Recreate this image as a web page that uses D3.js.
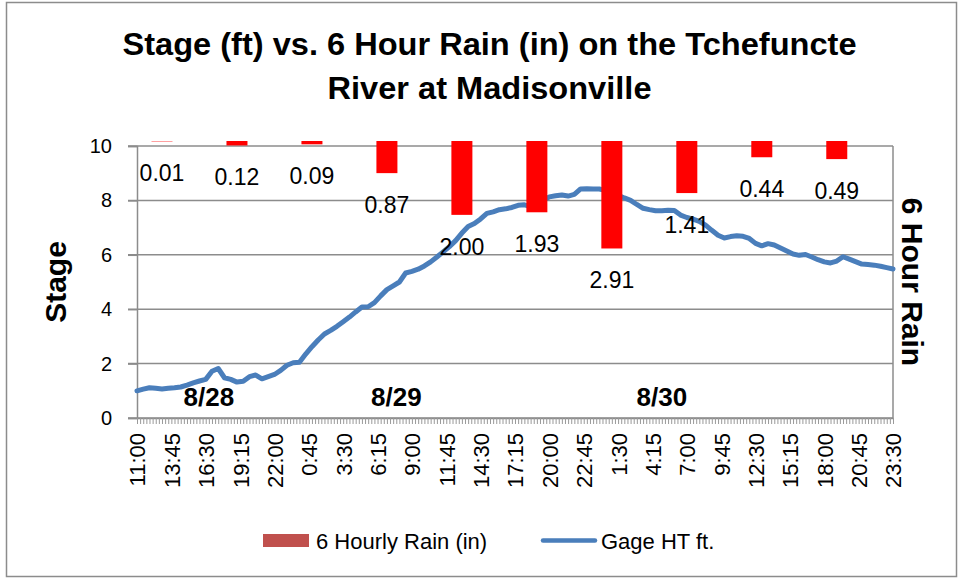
<!DOCTYPE html>
<html>
<head>
<meta charset="utf-8">
<script src="https://cdn.jsdelivr.net/npm/d3@7"></script>
<style>
body { margin: 0; background: #fff; }
text { font-family: "Liberation Sans", Arial, sans-serif; fill: #000; }
</style>
</head>
<body>
<div id="mainContainer"></div>
<script>
var titleLines = ["Stage (ft) vs. 6 Hour Rain (in) on the Tchefuncte", "River at Madisonville"];
var startTime = "2012-08-28 11:00";
var endTime = "2012-08-30 23:30";
var tickLabels = ["11:00","13:45","16:30","19:15","22:00","0:45","3:30","6:15","9:00","11:45","14:30",
    "17:15","20:00","22:45","1:30","4:15","7:00","9:45","12:30","15:15","18:00","20:45","23:30"];
var stageTicks = [0, 2, 4, 6, 8, 10];

// gage height every 30 min, 8/28 11:00 -> 8/30 23:30
var stage = [
    1.00,1.06,1.11,1.09,1.07,1.09,1.11,1.14,1.21,1.29,1.36,1.42,1.72,1.82,1.48,1.42,1.32,1.35,1.52,1.58,
    1.44,1.52,1.60,1.75,1.94,2.03,2.05,2.35,2.62,2.87,3.09,3.22,3.37,3.54,3.71,3.90,4.08,4.09,4.24,4.49,
    4.72,4.86,5.00,5.33,5.39,5.47,5.59,5.74,5.92,6.11,6.30,6.52,6.80,7.04,7.15,7.32,7.52,7.58,7.66,7.69,
    7.74,7.82,7.84,7.76,7.85,8.00,8.13,8.17,8.20,8.16,8.22,8.42,8.43,8.42,8.42,8.37,8.29,8.19,8.09,8.00,
    7.85,7.71,7.66,7.62,7.62,7.64,7.63,7.46,7.37,7.31,7.23,7.09,6.90,6.72,6.62,6.67,6.70,6.68,6.60,6.42,
    6.33,6.41,6.36,6.25,6.14,6.03,5.98,6.01,5.92,5.82,5.74,5.70,5.77,5.93,5.84,5.75,5.66,5.64,5.62,5.58,
    5.53,5.48];

var rainTimes = ["2012-08-28 13:00","2012-08-28 19:00","2012-08-29 01:00","2012-08-29 07:00","2012-08-29 13:00",
    "2012-08-29 19:00","2012-08-30 01:00","2012-08-30 07:00","2012-08-30 13:00","2012-08-30 19:00"];
var rain = [0.01, 0.12, 0.09, 0.87, 2.00, 1.93, 2.91, 1.41, 0.44, 0.49];

var dayLabels = ["8/28", "8/29", "8/30"];
var dayTimes = ["2012-08-28 16:45", "2012-08-29 07:45", "2012-08-30 05:00"];

var parse = d3.timeParse("%Y-%m-%d %H:%M");
var t0 = parse(startTime), t1 = parse(endTime);

var stageData = d3.timeMinute.every(30).range(t0, d3.timeMinute.offset(t1, 1)).map(function(t, i){
    return { t: t, v: stage[i] };
});
var rainData = rain.map(function(v, i){ return { t: parse(rainTimes[i]), v: v }; });

var W = 960, H = 579;
var plot = { left: 137, right: 893, top: 146, bottom: 418 };

var svg = d3.select('#mainContainer').append('svg')
    .attr('width', W)
    .attr('height', H);

svg.append('rect')
    .attr('x', 6.5).attr('y', 2.5)
    .attr('width', 950).attr('height', 574)
    .attr('fill', '#fff')
    .attr('stroke', '#8c8c8c')
    .attr('stroke-width', 1.5);

var x = d3.scaleTime().domain([t0, t1]).range([plot.left, plot.right]);
var y = d3.scaleLinear().domain([0, 10]).range([plot.bottom, plot.top]);
var y2 = d3.scaleLinear().domain([0, 7.5]).range([141, plot.bottom]);

// title
svg.selectAll('.title')
    .data(titleLines)
    .enter()
    .append('text')
    .attr('class', 'title')
    .attr('x', 489.5)
    .attr('y', function(d, i){ return 55 + i * 44; })
    .attr('text-anchor', 'middle')
    .attr('font-size', '31px')
    .attr('font-weight', 'bold')
    .attr('textLength', function(d, i){ return i == 0 ? 734 : 324; })
    .attr('lengthAdjust', 'spacingAndGlyphs')
    .text(function(d){ return d; });

// gridlines
svg.append('g')
    .selectAll('line')
    .data(stageTicks)
    .enter()
    .append('line')
    .attr('x1', plot.left - 9)
    .attr('x2', plot.right)
    .attr('y1', function(d){ return y(d); })
    .attr('y2', function(d){ return y(d); })
    .attr('stroke', '#8c8c8c')
    .attr('stroke-width', 1.5);

// right border
svg.append('line')
    .attr('x1', plot.right).attr('x2', plot.right)
    .attr('y1', plot.top).attr('y2', plot.bottom)
    .attr('stroke', '#8c8c8c')
    .attr('stroke-width', 1.5);

// y axis
var yAxis = svg.append('g')
    .attr('transform', 'translate(' + plot.left + ',0)')
    .call(d3.axisLeft(y).tickValues(stageTicks).tickSize(9).tickPadding(16));
yAxis.select('.domain').attr('stroke', '#8c8c8c').attr('stroke-width', 1.5);
yAxis.selectAll('.tick line').attr('stroke', '#8c8c8c').attr('stroke-width', 1.5);
yAxis.selectAll('text')
    .attr('font-family', '"Liberation Sans", Arial, sans-serif')
    .attr('font-size', '20px')
    .attr('fill', '#000');

// x axis minor ticks every 15 minutes
var minorTicks = d3.timeMinute.every(15).range(t0, d3.timeMinute.offset(t1, 1));
var xMinor = svg.append('g')
    .attr('transform', 'translate(0,' + plot.bottom + ')')
    .call(d3.axisBottom(x).tickValues(minorTicks).tickSize(6).tickSizeOuter(0).tickFormat(''));
xMinor.select('.domain').attr('stroke', '#8c8c8c').attr('stroke-width', 1.5);
xMinor.selectAll('.tick line').attr('stroke', '#9a9a9a').attr('stroke-width', 1);

// x tick labels
var tickTimes = tickLabels.map(function(d, i){ return d3.timeMinute.offset(t0, i * 165); });
var xAxis = svg.append('g')
    .attr('transform', 'translate(0,' + plot.bottom + ')')
    .call(d3.axisBottom(x).tickValues(tickTimes).tickSize(0)
        .tickFormat(function(d, i){ return tickLabels[i]; }));
xAxis.select('.domain').remove();
xAxis.selectAll('text')
    .attr('transform', 'rotate(-90)')
    .attr('x', -15)
    .attr('y', 0)
    .attr('dy', '0.36em')
    .style('text-anchor', 'end')
    .attr('font-family', '"Liberation Sans", Arial, sans-serif')
    .attr('font-size', '22px')
    .attr('fill', '#000');

// stage line
var line = d3.line()
    .x(function(d){ return x(d.t); })
    .y(function(d){ return y(d.v); });

svg.append('path')
    .datum(stageData)
    .attr('d', line)
    .attr('fill', 'none')
    .attr('stroke', '#4a7ebb')
    .attr('stroke-width', 5)
    .attr('stroke-linejoin', 'round')
    .attr('stroke-linecap', 'round');

// rain bars hanging from the top (reversed secondary axis)
var barW = 21;
svg.append('g')
    .selectAll('rect')
    .data(rainData)
    .enter()
    .append('rect')
    .attr('x', function(d){ return x(d.t) - barW / 2; })
    .attr('y', y2(0))
    .attr('width', barW)
    .attr('height', function(d){ return y2(d.v) - y2(0); })
    .attr('fill', '#ff0000');

svg.append('g')
    .selectAll('text')
    .data(rainData)
    .enter()
    .append('text')
    .attr('x', function(d){ return x(d.t); })
    .attr('y', function(d){ return y2(d.v) + 40; })
    .attr('text-anchor', 'middle')
    .attr('font-size', '23px')
    .text(function(d){ return d.v.toFixed(2); });

// day annotations
svg.append('g')
    .selectAll('text')
    .data(dayLabels)
    .enter()
    .append('text')
    .attr('x', function(d, i){ return x(parse(dayTimes[i])); })
    .attr('y', y(0.45))
    .attr('text-anchor', 'middle')
    .attr('font-size', '26px')
    .attr('font-weight', 'bold')
    .text(function(d){ return d; });

// axis titles
svg.append('text')
    .attr('transform', 'translate(66,282) rotate(-90)')
    .attr('text-anchor', 'middle')
    .attr('font-size', '30px')
    .attr('font-weight', 'bold')
    .text('Stage');

svg.append('text')
    .attr('transform', 'translate(902,282) rotate(90)')
    .attr('text-anchor', 'middle')
    .attr('font-size', '30px')
    .attr('font-weight', 'bold')
    .text('6 Hour Rain');

// legend
var legend = svg.append('g');
legend.append('rect')
    .attr('x', 263).attr('y', 534)
    .attr('width', 46).attr('height', 13)
    .attr('fill', '#c0504d');
legend.append('text')
    .attr('x', 316).attr('y', 549)
    .attr('font-size', '22px')
    .text('6 Hourly Rain (in)');
legend.append('line')
    .attr('x1', 543).attr('x2', 595)
    .attr('y1', 540.5).attr('y2', 540.5)
    .attr('stroke', '#4a7ebb')
    .attr('stroke-width', 4.5)
    .attr('stroke-linecap', 'round');
legend.append('text')
    .attr('x', 601).attr('y', 549)
    .attr('font-size', '22px')
    .text('Gage HT ft.');
</script>
</body>
</html>
